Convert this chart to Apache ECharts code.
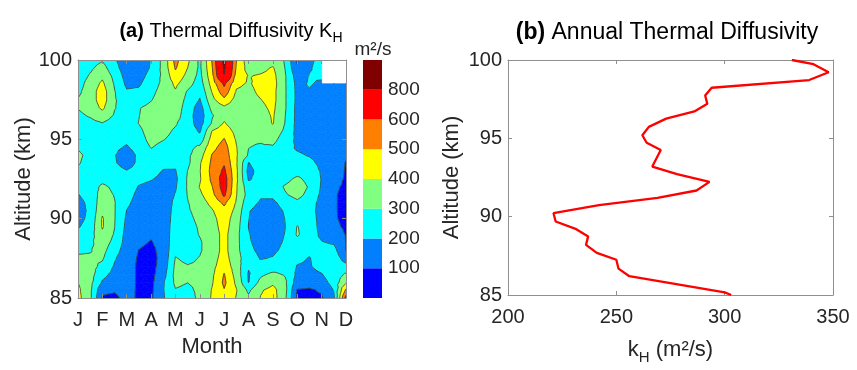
<!DOCTYPE html>
<html>
<head>
<meta charset="utf-8">
<script src="https://cdn.jsdelivr.net/npm/echarts@6/dist/echarts.min.js"></script>
<style>html,body{margin:0;padding:0;background:#fff}#c{width:857px;height:370px}</style>
</head>
<body>
<div id="c"></div>
<script>
// ---------- data ----------
const monthLetters = ['J','F','M','A','M','J','J','A','S','O','N','D'];
// grid of the contour map: month positions (columns) and altitudes (rows, km)
const gridMonths = [1,1.5,2,2.5,3,3.5,4,4.5,5,5.5,6,6.5,7,7.5,8,8.5,9,9.5,10,10.5,11,11.5,12];
const gridAltitudes = [100,99.5,99,98.5,98,97.5,97,96.5,96,95.5,95,94.5,94,93.5,93,92.5,92,91.5,91,90.5,90,89.5,89,88.5,88,87.5,87,86.5,86,85.5,85];
// K_H (m^2/s) profiles, one per month position, from 100 km down to 85 km (null = no data)
const khColumns = [
 [250,250,250,260,280,305,305,280,260,250,260,290,320,310,280,250,230,195,170,160,170,190,230,260,290,310,340,370,400,420,430],
 [260,280,310,340,350,350,340,310,270,250,240,250,270,260,250,240,250,240,225,220,225,240,260,280,295,310,330,340,330,320,320],
 [290,340,380,420,450,450,420,360,295,260,240,230,230,230,240,270,320,340,360,380,410,410,380,350,330,310,280,230,190,120,90],
 [210,230,270,290,305,310,305,290,260,250,240,220,205,210,230,250,280,295,305,305,305,302,290,270,240,210,190,170,150,110,80],
 [150,150,160,180,210,240,260,270,260,240,220,190,150,160,205,230,240,230,215,198,185,175,165,160,150,140,140,140,140,135,130],
 [140,140,160,185,220,260,295,298,302,280,260,240,220,220,230,220,195,180,170,160,150,140,130,115,98,90,85,85,85,85,85],
 [205,210,235,260,280,295,320,340,345,340,330,305,270,250,230,205,180,165,155,150,145,130,110,95,80,70,70,70,75,80,85],
 [330,330,320,320,330,340,345,345,340,330,305,270,240,220,195,180,160,150,145,145,140,140,135,130,130,130,140,160,190,195,190],
 [530,510,470,420,390,370,360,345,310,285,270,250,230,215,195,180,190,205,220,230,240,250,260,270,280,305,320,330,320,295,270],
 [420,400,370,340,290,270,250,240,240,250,260,270,280,280,302,310,310,305,295,290,280,270,260,255,260,280,305,310,302,280,260],
 [280,280,270,250,220,195,160,150,160,190,240,320,360,390,395,390,405,380,350,330,320,310,305,290,290,305,310,320,320,320,320],
 [505,490,470,440,405,370,330,290,310,405,440,470,505,520,530,520,495,470,430,390,370,360,350,350,350,360,370,380,390,405,410],
 [840,820,795,620,560,480,380,370,410,460,505,540,560,590,620,650,650,620,520,470,450,440,430,430,430,440,460,505,520,495,450],
 [505,490,460,420,390,360,340,330,340,370,390,405,410,410,420,420,410,405,390,370,350,340,330,330,330,340,350,360,380,405,395],
 [340,360,395,390,375,365,350,340,330,320,310,302,290,195,170,190,240,260,230,205,202,198,205,210,220,240,210,190,195,280,320],
 [340,370,410,430,420,398,380,360,350,330,310,290,270,250,240,230,230,210,190,170,160,160,160,170,180,195,230,280,330,390,405],
 [350,410,430,440,430,430,420,410,405,360,330,290,270,250,250,270,250,220,180,160,150,150,160,170,185,205,240,320,380,430,440],
 [290,298,310,310,310,310,310,303,297,280,250,230,220,220,230,270,310,290,240,210,202,198,203,210,220,240,260,290,320,330,320],
 [90,110,150,170,175,175,170,170,170,170,180,190,210,230,260,320,350,330,280,250,260,305,310,270,240,220,195,180,150,95,80],
 [180,190,205,210,190,170,160,160,160,160,170,180,195,220,250,270,290,270,240,230,240,250,250,240,220,195,190,170,130,90,80],
 [230,240,220,180,160,150,150,150,150,150,150,160,170,180,190,195,190,180,170,170,170,170,180,205,230,250,240,195,160,110,90],
 [null,null,null,160,140,130,130,130,130,130,130,140,150,160,160,150,120,110,110,110,110,120,150,190,230,260,270,260,240,205,180],
 [null,null,null,190,150,140,140,140,140,140,130,120,110,95,90,85,80,75,75,75,80,85,95,98,98,150,230,310,380,520,640]
];
const contourLevels = [100,200,300,400,500,600,800];
const levelColors = ['#0000FF','#0080FF','#00FFFF','#80FF80','#FFFF00','#FF8000','#FF0000','#800000'];

// annual mean profile (panel b)
const profileAltitude = [100,99.73,99.22,98.72,98.23,97.73,97.2,96.72,96.26,95.73,95.2,94.72,94.26,93.2,92.72,92.22,91.67,91.2,90.74,90.22,89.69,89.2,88.74,88.2,87.69,87.25,86.68,86.2,85.17,85];
const profileKh = [331,341,348,339,294,291,292,286,273,265,262,264,270.5,266.6,278,293,287,269,242,221,222,231.5,237,236,241,250,251,256,300,303];

// ---------- helpers ----------
const FONT = 'Liberation Sans, Arial, sans-serif';
const TXT = '#262626';
const FRAME = '#8f8f8f';

function clipPoly(pts, level, keepAbove) {
  const out = [];
  for (let k = 0; k < pts.length; k++) {
    const a = pts[k], b = pts[(k + 1) % pts.length];
    const ina = keepAbove ? a.v >= level : a.v < level;
    const inb = keepAbove ? b.v >= level : b.v < level;
    if (ina) out.push(a);
    if (ina !== inb) {
      const t = (level - a.v) / (b.v - a.v);
      out.push({x: a.x + t * (b.x - a.x), y: a.y + t * (b.y - a.y), v: level});
    }
  }
  return out;
}

function cellTriangles(api, i, j) {
  const idx = [[i, j], [i + 1, j], [i + 1, j + 1], [i, j + 1]];
  const c = [];
  for (const [ci, rj] of idx) {
    const v = khColumns[ci][rj];
    if (v == null) return null;
    const p = api.coord([gridMonths[ci], gridAltitudes[rj]]);
    c.push({x: p[0], y: p[1], v: v});
  }
  const m = {x: (c[0].x + c[1].x + c[2].x + c[3].x) / 4, y: (c[0].y + c[1].y + c[2].y + c[3].y) / 4, v: (c[0].v + c[1].v + c[2].v + c[3].v) / 4};
  return [[c[0], c[1], m], [c[1], c[2], m], [c[2], c[3], m], [c[3], c[0], m]];
}

const cells = [];
for (let i = 0; i < gridMonths.length - 1; i++) {
  for (let j = 0; j < gridAltitudes.length - 1; j++) {
    cells.push([gridMonths[i], gridAltitudes[j], i, j]);
  }
}

function renderFill(params, api) {
  const tris = cellTriangles(api, api.value(2), api.value(3));
  if (!tris) return null;
  const children = [];
  for (const tri of tris) {
    for (let b = 0; b < levelColors.length; b++) {
      let poly = tri;
      if (b > 0) poly = clipPoly(poly, contourLevels[b - 1], true);
      if (poly.length >= 3 && b < contourLevels.length) poly = clipPoly(poly, contourLevels[b], false);
      if (poly.length >= 3) {
        children.push({type: 'polygon', shape: {points: poly.map(p => [p.x, p.y])},
          style: {fill: levelColors[b], stroke: levelColors[b], lineWidth: 0.7}});
      }
    }
  }
  return {type: 'group', children: children};
}

function renderLines(params, api) {
  const tris = cellTriangles(api, api.value(2), api.value(3));
  if (!tris) return null;
  const children = [];
  for (const tri of tris) {
    for (const L of contourLevels) {
      const pts = [];
      for (let k = 0; k < 3; k++) {
        const a = tri[k], b = tri[(k + 1) % 3];
        if ((a.v >= L) !== (b.v >= L)) {
          const t = (L - a.v) / (b.v - a.v);
          pts.push([a.x + t * (b.x - a.x), a.y + t * (b.y - a.y)]);
        }
      }
      if (pts.length === 2) {
        children.push({type: 'line', shape: {x1: pts[0][0], y1: pts[0][1], x2: pts[1][0], y2: pts[1][1]},
          style: {stroke: '#3a3a3a', lineWidth: 0.8}});
      }
    }
  }
  return {type: 'group', children: children};
}

function boxAxis(gridIndex, min, max, interval, position, z) {
  return {gridIndex, type: 'value', min, max, interval, position,
    axisLine: {show: true, onZero: false, lineStyle: {color: FRAME, width: 1}},
    axisTick: {show: true, inside: true, length: 4, lineStyle: {color: FRAME}},
    axisLabel: {show: false}, splitLine: {show: false}, z: z};
}

const chart = echarts.init(document.getElementById('c'));
chart.setOption({
  animation: false,
  backgroundColor: '#fff',
  textStyle: {fontFamily: FONT},
  grid: [
    {left: 78, top: 60, width: 268, height: 238},
    {left: 508, top: 60, width: 325, height: 238},
    {left: 363, top: 60, width: 19, height: 238}
  ],
  xAxis: [
    Object.assign(boxAxis(0, 1, 12, 1, 'bottom', 5), {
      axisLabel: {show: true, formatter: v => monthLetters[Math.round(v) - 1] || '', fontSize: 20, color: TXT, margin: 12, fontFamily: FONT},
      name: 'Month', nameLocation: 'middle', nameGap: 38,
      nameTextStyle: {fontSize: 22, color: TXT, fontFamily: FONT}
    }),
    boxAxis(0, 1, 12, 1, 'top', 5),
    Object.assign(boxAxis(1, 200, 350, 50, 'bottom', 0), {
      axisLabel: {show: true, fontSize: 20, color: TXT, margin: 12, fontFamily: FONT},
      name: '{t|k}{s|H}{t| (m²/s)}', nameLocation: 'middle', nameGap: 40,
      nameTextStyle: {color: TXT, fontFamily: FONT, rich: {
        t: {fontSize: 22, lineHeight: 30, color: TXT, fontFamily: FONT},
        s: {fontSize: 15, lineHeight: 16, verticalAlign: 'bottom', color: TXT, fontFamily: FONT}
      }}
    }),
    boxAxis(1, 200, 350, 50, 'top', 0),
    {gridIndex: 2, type: 'value', min: 0, max: 1, show: false}
  ],
  yAxis: [
    Object.assign(boxAxis(0, 85, 100, 5, 'left', 5), {
      axisLabel: {show: true, fontSize: 20, color: TXT, margin: 6, fontFamily: FONT},
      name: 'Altitude (km)', nameLocation: 'middle', nameGap: 43,
      nameTextStyle: {fontSize: 22, color: TXT, fontFamily: FONT}
    }),
    boxAxis(0, 85, 100, 5, 'right', 5),
    Object.assign(boxAxis(1, 85, 100, 5, 'left', 0), {
      axisLabel: {show: true, fontSize: 20, color: TXT, margin: 6, fontFamily: FONT},
      name: 'Altitude (km)', nameLocation: 'middle', nameGap: 45,
      nameTextStyle: {fontSize: 22, color: TXT, fontFamily: FONT}
    }),
    boxAxis(1, 85, 100, 5, 'right', 0),
    {gridIndex: 2, type: 'value', min: 0, max: 8, interval: 1, position: 'right',
      axisLine: {show: false}, axisTick: {show: false}, splitLine: {show: false},
      axisLabel: {show: true, fontSize: 19, color: TXT, margin: 6, fontFamily: FONT,
        formatter: v => (v >= 1 && v <= contourLevels.length) ? String(contourLevels[v - 1]) : ''}}
  ],
  series: [
    {type: 'custom', xAxisIndex: 0, yAxisIndex: 0, data: cells, renderItem: renderFill, clip: true, silent: true, z: 1},
    {type: 'custom', xAxisIndex: 0, yAxisIndex: 0, data: cells, renderItem: renderLines, clip: true, silent: true, z: 2},
    {type: 'custom', xAxisIndex: 4, yAxisIndex: 4, silent: true, z: 2,
      data: levelColors.map((c, k) => [0, k]),
      renderItem: (params, api) => {
        const k = api.value(1);
        const p0 = api.coord([0, k]), p1 = api.coord([1, k + 1]);
        return {type: 'rect', shape: {x: p0[0], y: p1[1], width: p1[0] - p0[0], height: p0[1] - p1[1]},
          style: {fill: levelColors[k]}};
      }},
    {type: 'line', xAxisIndex: 2, yAxisIndex: 2, showSymbol: false, silent: true, z: 3,
      data: profileKh.map((v, k) => [v, profileAltitude[k]]),
      lineStyle: {color: '#FF0000', width: 2.3}, itemStyle: {color: '#FF0000'}}
  ],
  graphic: [
    {type: 'text', x: 231, y: 31, silent: true, style: {
      text: '{b|(a)}{t| Thermal Diffusivity K}{s|H}', align: 'center', verticalAlign: 'middle',
      rich: {
        b: {fontSize: 20, fontWeight: 'bold', lineHeight: 28, fill: '#000', fontFamily: FONT},
        t: {fontSize: 20, lineHeight: 28, fill: '#000', fontFamily: FONT},
        s: {fontSize: 14, lineHeight: 15, verticalAlign: 'bottom', fill: '#000', fontFamily: FONT}
      }}},
    {type: 'text', x: 667, y: 33, silent: true, style: {
      text: '{b|(b)}{t| Annual Thermal Diffusivity}', align: 'center', verticalAlign: 'middle',
      rich: {
        b: {fontSize: 23, fontWeight: 'bold', lineHeight: 30, fill: '#000', fontFamily: FONT},
        t: {fontSize: 23, lineHeight: 30, fill: '#000', fontFamily: FONT}
      }}},
    {type: 'text', x: 373, y: 50, silent: true, style: {
      text: 'm²/s', align: 'center', verticalAlign: 'middle', fontSize: 19, fill: TXT, fontFamily: FONT}}
  ]
});
</script>
</body>
</html>
